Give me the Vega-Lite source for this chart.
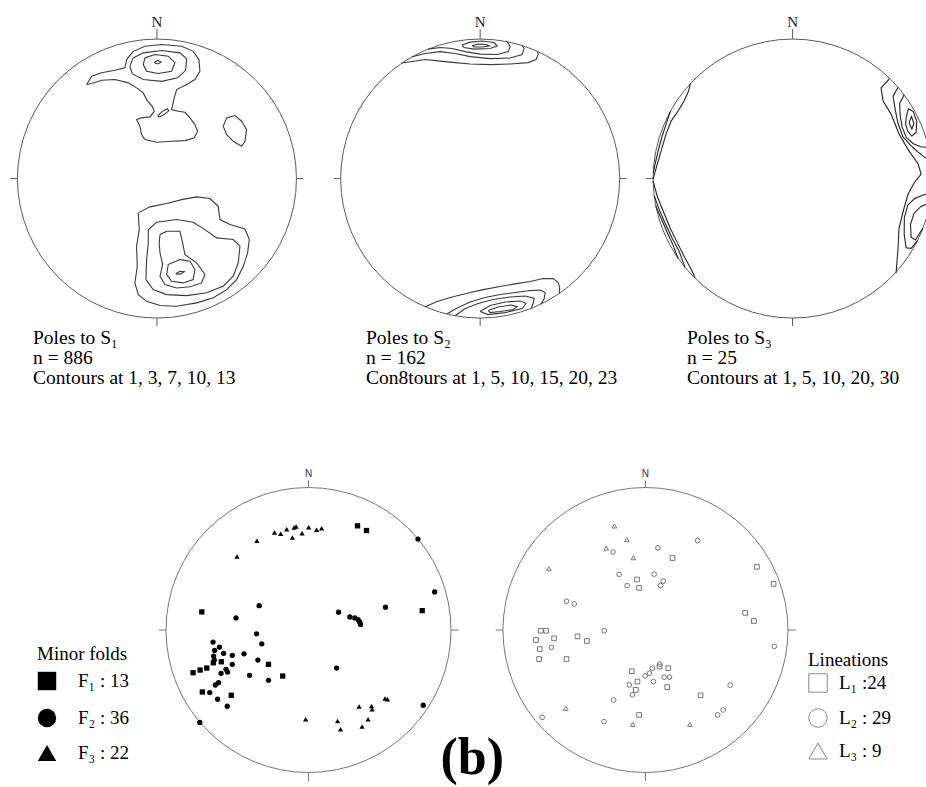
{
"$schema": "https://vega.github.io/schema/vega-lite/v6.json",
"padding": 0,
"background": "white",
"config": {"view": {"stroke": null}},
"datasets": {
"origin": [{"x": 0, "y": 0}],
"ticksTop": [{"x":0,"y":100,"x2":0,"y2":107.2},{"x":0,"y":-100,"x2":0,"y2":-105.7},{"x":-100,"y":0,"x2":-105,"y2":0},{"x":100,"y":0,"x2":105,"y2":0}],
"ticksBot": [{"x":0,"y":100,"x2":0,"y2":105},{"x":0,"y":-100,"x2":0,"y2":-106},{"x":-100,"y":0,"x2":-105,"y2":0},{"x":100,"y":0,"x2":105.5,"y2":0}],
"nTop": [{"x":0,"y":112,"t":"N"}],
"nBot": [{"x":0,"y":109.5,"t":"N"}],
"n1": [
{"c":"t1","x":-50.4,"y":67.4},{"c":"t1","x":-46.8,"y":73.3},{"c":"t1","x":-39.6,"y":75.8},{"c":"t1","x":-30.1,"y":77.6},{"c":"t1","x":-22.9,"y":79.4},{"c":"t1","x":-21.7,"y":85.3},{"c":"t1","x":-17.0,"y":91.2},{"c":"t1","x":-8.6,"y":94.8},{"c":"t1","x":3.4,"y":96.1},{"c":"t1","x":17.7,"y":94.8},{"c":"t1","x":26.0,"y":91.2},{"c":"t1","x":30.1,"y":85.3},{"c":"t1","x":30.8,"y":76.9},{"c":"t1","x":27.2,"y":71.0},{"c":"t1","x":21.3,"y":67.4},{"c":"t1","x":14.1,"y":63.8},{"c":"t1","x":12.4,"y":57.8},{"c":"t1","x":11.0,"y":51.8},{"c":"t1","x":10.5,"y":49.5},{"c":"t1","x":15.3,"y":48.2},{"c":"t1","x":20.1,"y":47.5},{"c":"t1","x":23.7,"y":43.5},{"c":"t1","x":27.2,"y":38.7},{"c":"t1","x":29.2,"y":33.9},{"c":"t1","x":26.7,"y":29.2},{"c":"t1","x":20.1,"y":27.2},{"c":"t1","x":10.5,"y":26.7},{"c":"t1","x":-0.2,"y":26.0},{"c":"t1","x":-8.6,"y":28.0},{"c":"t1","x":-11.0,"y":31.5},{"c":"t1","x":-12.2,"y":37.5},{"c":"t1","x":-14.6,"y":42.3},{"c":"t1","x":-11.0,"y":43.5},{"c":"t1","x":-5.0,"y":44.2},{"c":"t1","x":-1.9,"y":48.2},{"c":"t1","x":-3.4,"y":51.8},{"c":"t1","x":-7.4,"y":56.6},{"c":"t1","x":-9.8,"y":61.4},{"c":"t1","x":-14.6,"y":65.0},{"c":"t1","x":-20.6,"y":68.6},{"c":"t1","x":-30.1,"y":71.0},{"c":"t1","x":-39.6,"y":70.5},{"c":"t1","x":-46.8,"y":68.1},{"c":"t1","x":-50.4,"y":67.4},
{"c":"t2","x":-19.4,"y":80.5},{"c":"t2","x":-17.0,"y":86.5},{"c":"t2","x":-9.8,"y":90.1},{"c":"t2","x":3.4,"y":91.8},{"c":"t2","x":16.5,"y":90.1},{"c":"t2","x":21.3,"y":85.8},{"c":"t2","x":20.6,"y":77.6},{"c":"t2","x":14.8,"y":72.2},{"c":"t2","x":3.4,"y":69.7},{"c":"t2","x":-9.8,"y":71.0},{"c":"t2","x":-17.7,"y":75.0},{"c":"t2","x":-19.4,"y":80.5},
{"c":"t3","x":-8.6,"y":86.5},{"c":"t3","x":-1.4,"y":88.9},{"c":"t3","x":8.1,"y":87.7},{"c":"t3","x":12.9,"y":82.9},{"c":"t3","x":10.5,"y":76.9},{"c":"t3","x":0.9,"y":75.3},{"c":"t3","x":-7.4,"y":76.9},{"c":"t3","x":-9.8,"y":81.7},{"c":"t3","x":-8.6,"y":86.5},
{"c":"t4","x":-2,"y":83.2},{"c":"t4","x":0.6,"y":84.8},{"c":"t4","x":3,"y":83.6},{"c":"t4","x":0.6,"y":82.2},{"c":"t4","x":-2,"y":83.2},
{"c":"tn","x":0.5,"y":45},{"c":"tn","x":3.5,"y":48},{"c":"tn","x":7.5,"y":50},{"c":"tn","x":8.5,"y":48.5},{"c":"tn","x":4.5,"y":45.5},{"c":"tn","x":1.5,"y":44},{"c":"tn","x":0.5,"y":45},
{"c":"tr","x":50.0,"y":43.5},{"c":"tr","x":55.9,"y":45.2},{"c":"tr","x":60.7,"y":41.1},{"c":"tr","x":64.3,"y":35.1},{"c":"tr","x":63.1,"y":26.7},{"c":"tr","x":60.7,"y":23.2},{"c":"tr","x":54.7,"y":26.7},{"c":"tr","x":50.0,"y":31.5},{"c":"tr","x":47.5,"y":37.5},{"c":"tr","x":50.0,"y":43.5},
{"c":"b1","x":-13.4,"y":-24.6},{"c":"b1","x":-5.0,"y":-20.3},{"c":"b1","x":7.0,"y":-17.9},{"c":"b1","x":17.7,"y":-15.1},{"c":"b1","x":28.5,"y":-13.1},{"c":"b1","x":38.0,"y":-14.3},{"c":"b1","x":43.9,"y":-19.9},{"c":"b1","x":45.2,"y":-29.4},{"c":"b1","x":52.3,"y":-33.0},{"c":"b1","x":63.1,"y":-36.1},{"c":"b1","x":66.2,"y":-43.7},{"c":"b1","x":65.0,"y":-53.3},{"c":"b1","x":61.9,"y":-62.9},{"c":"b1","x":57.1,"y":-72.4},{"c":"b1","x":50.0,"y":-79.6},{"c":"b1","x":40.4,"y":-85.5},{"c":"b1","x":28.5,"y":-89.1},{"c":"b1","x":14.1,"y":-91.5},{"c":"b1","x":2.2,"y":-91.0},{"c":"b1","x":-7.4,"y":-88.0},{"c":"b1","x":-13.4,"y":-83.2},{"c":"b1","x":-15.8,"y":-74.8},{"c":"b1","x":-14.1,"y":-62.9},{"c":"b1","x":-14.6,"y":-48.5},{"c":"b1","x":-12.7,"y":-36.6},{"c":"b1","x":-13.4,"y":-24.6},
{"c":"b2","x":-6.2,"y":-36.6},{"c":"b2","x":-0.2,"y":-31.3},{"c":"b2","x":14.1,"y":-29.4},{"c":"b2","x":26.0,"y":-31.3},{"c":"b2","x":34.4,"y":-36.6},{"c":"b2","x":42.8,"y":-42.5},{"c":"b2","x":54.7,"y":-43.7},{"c":"b2","x":59.5,"y":-48.5},{"c":"b2","x":58.3,"y":-60.4},{"c":"b2","x":54.7,"y":-70.0},{"c":"b2","x":47.5,"y":-77.2},{"c":"b2","x":35.6,"y":-81.9},{"c":"b2","x":21.3,"y":-83.9},{"c":"b2","x":7.0,"y":-83.2},{"c":"b2","x":-2.7,"y":-79.6},{"c":"b2","x":-7.9,"y":-72.4},{"c":"b2","x":-7.4,"y":-58.1},{"c":"b2","x":-6.2,"y":-46.1},{"c":"b2","x":-6.2,"y":-36.6},
{"c":"b3","x":2.2,"y":-40.1},{"c":"b3","x":7.0,"y":-37.8},{"c":"b3","x":16.5,"y":-37.8},{"c":"b3","x":18.4,"y":-46.1},{"c":"b3","x":20.1,"y":-54.5},{"c":"b3","x":28.5,"y":-60.4},{"c":"b3","x":34.4,"y":-68.8},{"c":"b3","x":32.0,"y":-74.8},{"c":"b3","x":23.7,"y":-77.6},{"c":"b3","x":14.1,"y":-78.4},{"c":"b3","x":5.7,"y":-76.0},{"c":"b3","x":2.2,"y":-70.0},{"c":"b3","x":4.1,"y":-61.6},{"c":"b3","x":2.2,"y":-53.3},{"c":"b3","x":1.6,"y":-46.1},{"c":"b3","x":2.2,"y":-40.1},
{"c":"b4","x":8.1,"y":-61.6},{"c":"b4","x":16.5,"y":-58.1},{"c":"b4","x":23.7,"y":-59.3},{"c":"b4","x":27.2,"y":-65.2},{"c":"b4","x":26.0,"y":-72.4},{"c":"b4","x":18.9,"y":-74.8},{"c":"b4","x":10.5,"y":-73.6},{"c":"b4","x":7.0,"y":-68.8},{"c":"b4","x":8.1,"y":-61.6},
{"c":"b5","x":13.5,"y":-68.3},{"c":"b5","x":16.5,"y":-66.5},{"c":"b5","x":19.5,"y":-66.7},{"c":"b5","x":17,"y":-68.5},{"c":"b5","x":13.5,"y":-68.3}
],
"n2": [
{"c":"u1","x":-56.3,"y":82.8},{"c":"u1","x":-48.7,"y":83.9},{"c":"u1","x":-39.4,"y":85.3},{"c":"u1","x":-28.7,"y":84.2},{"c":"u1","x":-17.9,"y":83.1},{"c":"u1","x":-7.2,"y":82.1},{"c":"u1","x":7.2,"y":81.7},{"c":"u1","x":21.5,"y":82.1},{"c":"u1","x":34.4,"y":83.1},{"c":"u1","x":40.1,"y":85.3},{"c":"u1","x":41.6,"y":88.9},{"c":"u1","x":41.2,"y":91.0},
{"c":"u2","x":-48.7,"y":87.3},{"c":"u2","x":-39.4,"y":89.6},{"c":"u2","x":-28.7,"y":91.0},{"c":"u2","x":-17.9,"y":89.6},{"c":"u2","x":-7.2,"y":87.4},{"c":"u2","x":7.2,"y":86.0},{"c":"u2","x":21.5,"y":86.4},{"c":"u2","x":30.1,"y":88.9},{"c":"u2","x":31.5,"y":93.2},{"c":"u2","x":30.1,"y":95.3},
{"c":"u3","x":-37.3,"y":92.8},{"c":"u3","x":-28.7,"y":93.9},{"c":"u3","x":-20.1,"y":93.2},{"c":"u3","x":-10.8,"y":91.0},{"c":"u3","x":0,"y":89.2},{"c":"u3","x":12.2,"y":88.9},{"c":"u3","x":20.1,"y":91.0},{"c":"u3","x":21.5,"y":94.6},{"c":"u3","x":19.4,"y":98.1},
{"c":"u4","x":-12.9,"y":95.7},{"c":"u4","x":-7.2,"y":97.8},{"c":"u4","x":1.4,"y":98.6},{"c":"u4","x":10.0,"y":97.5},{"c":"u4","x":12.2,"y":95.0},{"c":"u4","x":7.2,"y":93.2},{"c":"u4","x":-4.3,"y":92.8},{"c":"u4","x":-11.5,"y":93.9},{"c":"u4","x":-12.9,"y":95.7},
{"c":"u5","x":-5.7,"y":95.3},{"c":"u5","x":-1.4,"y":96.4},{"c":"u5","x":4.3,"y":96.1},{"c":"u5","x":6.5,"y":95.0},{"c":"u5","x":1.4,"y":94.3},{"c":"u5","x":-4.3,"y":94.3},{"c":"u5","x":-5.7,"y":95.3},
{"c":"d1","x":-39.4,"y":-91.9},{"c":"d1","x":-30.8,"y":-88.2},{"c":"d1","x":-21.5,"y":-85.3},{"c":"d1","x":-9.3,"y":-82.2},{"c":"d1","x":2.2,"y":-79.6},{"c":"d1","x":14.3,"y":-77.4},{"c":"d1","x":25.1,"y":-75.5},{"c":"d1","x":35.8,"y":-73.8},{"c":"d1","x":45.2,"y":-71.7},{"c":"d1","x":52.3,"y":-71.7},{"c":"d1","x":55.9,"y":-74.5},{"c":"d1","x":57.0,"y":-78.1},{"c":"d1","x":56.8,"y":-82.3},
{"c":"d2","x":-23.9,"y":-97.1},{"c":"d2","x":-15.8,"y":-92.5},{"c":"d2","x":-7.2,"y":-88.5},{"c":"d2","x":3.6,"y":-85.3},{"c":"d2","x":14.3,"y":-83.1},{"c":"d2","x":25.1,"y":-81.7},{"c":"d2","x":35.8,"y":-80.3},{"c":"d2","x":43.0,"y":-79.9},{"c":"d2","x":46.6,"y":-81.7},{"c":"d2","x":45.9,"y":-86.0},{"c":"d2","x":43.7,"y":-90.0},
{"c":"d3","x":-17.9,"y":-98.3},{"c":"d3","x":-10.8,"y":-93.2},{"c":"d3","x":-1.4,"y":-89.6},{"c":"d3","x":9.3,"y":-86.7},{"c":"d3","x":21.5,"y":-84.9},{"c":"d3","x":32.3,"y":-84.2},{"c":"d3","x":38.7,"y":-85.7},{"c":"d3","x":38.0,"y":-89.6},{"c":"d3","x":36.6,"y":-93.0},
{"c":"d4","x":0,"y":-95.3},{"c":"d4","x":7.2,"y":-91.0},{"c":"d4","x":17.9,"y":-88.5},{"c":"d4","x":28.7,"y":-87.8},{"c":"d4","x":33.0,"y":-89.6},{"c":"d4","x":30.1,"y":-93.2},{"c":"d4","x":17.9,"y":-96.1},{"c":"d4","x":5.7,"y":-97.5},{"c":"d4","x":0,"y":-95.3},
{"c":"d5","x":5.7,"y":-94.6},{"c":"d5","x":12.9,"y":-92.1},{"c":"d5","x":22.2,"y":-90.7},{"c":"d5","x":26.5,"y":-91.8},{"c":"d5","x":23.7,"y":-93.9},{"c":"d5","x":14.3,"y":-95.3},{"c":"d5","x":7.2,"y":-96.1},{"c":"d5","x":5.7,"y":-94.6}
],
"n3": [
{"c":"U1","x":69.2,"y":71.3},{"c":"U1","x":63.4,"y":64.9},{"c":"U1","x":64.9,"y":55.6},{"c":"U1","x":70.6,"y":46.2},{"c":"U1","x":76.3,"y":31.9},{"c":"U1","x":83.5,"y":19.7},{"c":"U1","x":90.0,"y":10.4},{"c":"U1","x":92.1,"y":3.2},{"c":"U1","x":87.1,"y":-3.2},{"c":"U1","x":82.8,"y":-11.1},{"c":"U1","x":79.9,"y":-21.1},{"c":"U1","x":76.3,"y":-35.5},{"c":"U1","x":75.6,"y":-49.8},{"c":"U1","x":74.2,"y":-67.7},
{"c":"U2","x":75.6,"y":65.4},{"c":"U2","x":72.0,"y":59.1},{"c":"U2","x":73.5,"y":49.8},{"c":"U2","x":75.5,"y":40},{"c":"U2","x":79,"y":30},{"c":"U2","x":84.5,"y":24},{"c":"U2","x":90,"y":19},{"c":"U2","x":95,"y":15},{"c":"U2","x":99,"y":13.5},
{"c":"U3","x":80,"y":60},{"c":"U3","x":76.8,"y":54},{"c":"U3","x":77,"y":46},{"c":"U3","x":78.5,"y":37},{"c":"U3","x":81.5,"y":29.5},{"c":"U3","x":86.5,"y":25},{"c":"U3","x":92,"y":22.8},{"c":"U3","x":97.5,"y":22.2},
{"c":"U4","x":81.5,"y":44},{"c":"U4","x":83,"y":50},{"c":"U4","x":86.5,"y":48},{"c":"U4","x":89,"y":41},{"c":"U4","x":88.5,"y":33},{"c":"U4","x":85.5,"y":30.5},{"c":"U4","x":82.5,"y":34},{"c":"U4","x":81,"y":39},{"c":"U4","x":81.5,"y":44},
{"c":"U5","x":83.5,"y":40},{"c":"U5","x":85.2,"y":44.5},{"c":"U5","x":87,"y":39.5},{"c":"U5","x":85.5,"y":35.5},{"c":"U5","x":83.5,"y":40},
{"c":"L2","x":99.5,"y":-10},{"c":"L2","x":93,"y":-12},{"c":"L2","x":87.3,"y":-14.5},{"c":"L2","x":82.6,"y":-19},{"c":"L2","x":80.1,"y":-28},{"c":"L2","x":80,"y":-40},{"c":"L2","x":81.4,"y":-49.6},{"c":"L2","x":85,"y":-50},{"c":"L2","x":89.5,"y":-44.5},
{"c":"L3","x":98.5,"y":-17.4},{"c":"L3","x":92,"y":-20},{"c":"L3","x":87,"y":-25},{"c":"L3","x":84.5,"y":-33},{"c":"L3","x":85,"y":-42},{"c":"L3","x":88,"y":-44},{"c":"L3","x":91.5,"y":-38.5},{"c":"L3","x":93.5,"y":-35.5},
{"c":"A","x":-73.3,"y":68.0},{"c":"A","x":-74.5,"y":62.7},{"c":"A","x":-77.8,"y":55.6},{"c":"A","x":-82.1,"y":48.4},{"c":"A","x":-87.1,"y":41.2},{"c":"A","x":-90.7,"y":31.9},{"c":"A","x":-94.3,"y":19.7},{"c":"A","x":-97.8,"y":7.5},{"c":"A","x":-100,"y":-0.4},
{"c":"B","x":-87.5,"y":48.4},{"c":"B","x":-90,"y":41.2},{"c":"B","x":-93.5,"y":30.5},{"c":"B","x":-96.4,"y":19.7},{"c":"B","x":-98.6,"y":10.4},{"c":"B","x":-99.9,"y":3.9},
{"c":"C","x":-100,"y":-1.8},{"c":"C","x":-97.1,"y":-12.5},{"c":"C","x":-92.8,"y":-23.3},{"c":"C","x":-87.8,"y":-35.5},{"c":"C","x":-82.1,"y":-47.0},{"c":"C","x":-77.1,"y":-57.0},{"c":"C","x":-72.8,"y":-64.9},{"c":"C","x":-69.9,"y":-71.1},
{"c":"D","x":-99.2,"y":-12.5},{"c":"D","x":-95.7,"y":-21.9},{"c":"D","x":-91.4,"y":-31.9},{"c":"D","x":-86.4,"y":-42.6},{"c":"D","x":-81.4,"y":-52.0},{"c":"D","x":-77.1,"y":-63.7},
{"c":"E","x":-98.1,"y":-19.7},{"c":"E","x":-94.3,"y":-28.3},{"c":"E","x":-90.0,"y":-38.3},{"c":"E","x":-85.7,"y":-47.7},{"c":"E","x":-82.1,"y":-57.1}
],
"folds": [
{"s":"F₁ : 13","x":34.4,"y":73.1},{"s":"F₁ : 13","x":40.7,"y":69.8},{"s":"F₁ : 13","x":-74.9,"y":12.7},{"s":"F₁ : 13","x":79.8,"y":13.6},{"s":"F₁ : 13","x":-81.0,"y":-30.0},{"s":"F₁ : 13","x":-76.1,"y":-28.1},{"s":"F₁ : 13","x":-71.4,"y":-26.7},{"s":"F₁ : 13","x":-66.8,"y":-23.0},{"s":"F₁ : 13","x":-61.2,"y":-22.3},{"s":"F₁ : 13","x":-28.1,"y":-24.1},{"s":"F₁ : 13","x":-18.1,"y":-32.3},{"s":"F₁ : 13","x":-74.5,"y":-43.5},{"s":"F₁ : 13","x":-54.2,"y":-45.8},
{"s":"F₂ : 36","x":76.8,"y":63.8},{"s":"F₂ : 36","x":88.5,"y":26.7},{"s":"F₂ : 36","x":-34.6,"y":17.1},{"s":"F₂ : 36","x":-50.9,"y":8.5},{"s":"F₂ : 36","x":21.1,"y":12.5},{"s":"F₂ : 36","x":29.0,"y":9.2},{"s":"F₂ : 36","x":32.5,"y":8.5},{"s":"F₂ : 36","x":34.8,"y":7.3},{"s":"F₂ : 36","x":36.0,"y":5.5},{"s":"F₂ : 36","x":36.5,"y":3.8},{"s":"F₂ : 36","x":54.0,"y":16.0},{"s":"F₂ : 36","x":-36.5,"y":-2.7},{"s":"F₂ : 36","x":-32.8,"y":-9.7},{"s":"F₂ : 36","x":-67.0,"y":-8.5},{"s":"F₂ : 36","x":-65.9,"y":-14.3},{"s":"F₂ : 36","x":-59.6,"y":-16.4},{"s":"F₂ : 36","x":-53.5,"y":-17.8},{"s":"F₂ : 36","x":-45.3,"y":-16.7},{"s":"F₂ : 36","x":-35.5,"y":-21.1},{"s":"F₂ : 36","x":-66.6,"y":-18.3},{"s":"F₂ : 36","x":-66.1,"y":-21.1},{"s":"F₂ : 36","x":-53.5,"y":-24.1},{"s":"F₂ : 36","x":-57.9,"y":-27.6},{"s":"F₂ : 36","x":-56.8,"y":-29.5},{"s":"F₂ : 36","x":-61.4,"y":-30.4},{"s":"F₂ : 36","x":-41.4,"y":-31.8},{"s":"F₂ : 36","x":-28.1,"y":-35.3},{"s":"F₂ : 36","x":-63.1,"y":-36.9},{"s":"F₂ : 36","x":-65.4,"y":-38.6},{"s":"F₂ : 36","x":-69.3,"y":-43.9},{"s":"F₂ : 36","x":-63.8,"y":-48.6},{"s":"F₂ : 36","x":-57.0,"y":-53.5},{"s":"F₂ : 36","x":19.7,"y":-26.7},{"s":"F₂ : 36","x":80.5,"y":-52.8},{"s":"F₂ : 36","x":-76.3,"y":-64.9},{"s":"F₂ : 36","x":-62.5,"y":-12.0},
{"s":"F₃ : 22","x":-23.9,"y":68.4},{"s":"F₃ : 22","x":-19.5,"y":67.5},{"s":"F₃ : 22","x":-15.3,"y":70.7},{"s":"F₃ : 22","x":-10.1,"y":71.9},{"s":"F₃ : 22","x":-8.7,"y":72.6},{"s":"F₃ : 22","x":-11.3,"y":64.9},{"s":"F₃ : 22","x":-4.5,"y":67.9},{"s":"F₃ : 22","x":0.1,"y":72.1},{"s":"F₃ : 22","x":5.7,"y":70.3},{"s":"F₃ : 22","x":9.2,"y":71.4},{"s":"F₃ : 22","x":-36.2,"y":62.6},{"s":"F₃ : 22","x":-50.2,"y":51.6},{"s":"F₃ : 22","x":53.7,"y":-48.1},{"s":"F₃ : 22","x":55.4,"y":-48.6},{"s":"F₃ : 22","x":35.5,"y":-53.7},{"s":"F₃ : 22","x":44.2,"y":-53.3},{"s":"F₃ : 22","x":44.6,"y":-55.6},{"s":"F₃ : 22","x":41.8,"y":-62.6},{"s":"F₃ : 22","x":37.6,"y":-67.7},{"s":"F₃ : 22","x":20.4,"y":-63.8},{"s":"F₃ : 22","x":22.5,"y":-69.6},{"s":"F₃ : 22","x":-2.0,"y":-62.6}
],
"lins": [
{"s":"L₁ :24","x":19.0,"y":50.5},{"s":"L₁ :24","x":78.2,"y":44.4},{"s":"L₁ :24","x":89.9,"y":32.4},{"s":"L₁ :24","x":-5.9,"y":35.4},{"s":"L₁ :24","x":-4.5,"y":29.6},{"s":"L₁ :24","x":70.0,"y":12.0},{"s":"L₁ :24","x":76.1,"y":6.3},{"s":"L₁ :24","x":-73.5,"y":-0.5},{"s":"L₁ :24","x":-69.7,"y":-0.5},{"s":"L₁ :24","x":-76.8,"y":-7.0},{"s":"L₁ :24","x":-64.1,"y":-5.9},{"s":"L₁ :24","x":-47.7,"y":-4.5},{"s":"L₁ :24","x":-41.1,"y":-7.7},{"s":"L₁ :24","x":-74.2,"y":-13.4},{"s":"L₁ :24","x":-74.6,"y":-20.4},{"s":"L₁ :24","x":-55.4,"y":-20.4},{"s":"L₁ :24","x":-9.6,"y":-28.9},{"s":"L₁ :24","x":9.9,"y":-25.6},{"s":"L₁ :24","x":16.0,"y":-26.8},{"s":"L₁ :24","x":-5.6,"y":-36.2},{"s":"L₁ :24","x":15.3,"y":-40.1},{"s":"L₁ :24","x":-6.8,"y":-42.0},{"s":"L₁ :24","x":38.7,"y":-45.8},{"s":"L₁ :24","x":-4.5,"y":-59.6},
{"s":"L₂ : 29","x":36.6,"y":62.7},{"s":"L₂ : 29","x":8.7,"y":57.7},{"s":"L₂ : 29","x":-22.8,"y":54.7},{"s":"L₂ : 29","x":-18.5,"y":39.0},{"s":"L₂ : 29","x":6.1,"y":39.2},{"s":"L₂ : 29","x":12.4,"y":34.3},{"s":"L₂ : 29","x":10.6,"y":31.2},{"s":"L₂ : 29","x":-12.9,"y":31.2},{"s":"L₂ : 29","x":-55.4,"y":20.2},{"s":"L₂ : 29","x":-50.0,"y":18.3},{"s":"L₂ : 29","x":-28.9,"y":-0.5},{"s":"L₂ : 29","x":-66.0,"y":-12.2},{"s":"L₂ : 29","x":90.4,"y":-11.5},{"s":"L₂ : 29","x":10.1,"y":-23.9},{"s":"L₂ : 29","x":4.9,"y":-26.8},{"s":"L₂ : 29","x":2.8,"y":-30.3},{"s":"L₂ : 29","x":-0.2,"y":-32.2},{"s":"L₂ : 29","x":5.6,"y":-36.2},{"s":"L₂ : 29","x":13.1,"y":-33.1},{"s":"L₂ : 29","x":16.9,"y":-33.1},{"s":"L₂ : 29","x":-11.3,"y":-38.5},{"s":"L₂ : 29","x":-9.2,"y":-45.5},{"s":"L₂ : 29","x":-22.3,"y":-49.1},{"s":"L₂ : 29","x":59.4,"y":-38.7},{"s":"L₂ : 29","x":54.5,"y":-56.1},{"s":"L₂ : 29","x":50.7,"y":-59.6},{"s":"L₂ : 29","x":-72.5,"y":-61.3},{"s":"L₂ : 29","x":-29.1,"y":-64.3},
{"s":"L₃ : 9","x":-21.8,"y":73.0},{"s":"L₃ : 9","x":-13.1,"y":63.4},{"s":"L₃ : 9","x":-27.5,"y":57.5},{"s":"L₃ : 9","x":-8.5,"y":50.7},{"s":"L₃ : 9","x":-67.8,"y":43.0},{"s":"L₃ : 9","x":-55.9,"y":-54.9},{"s":"L₃ : 9","x":-8.9,"y":-66.2},{"s":"L₃ : 9","x":31.2,"y":-66.2}
]
},
"resolve": {"scale": {"x": "independent", "y": "independent", "shape": "independent"}, "legend": {"shape": "independent"}},
"spacing": 71,
"vconcat": [
{
"hconcat": [
{
"width": 304.81, "height": 329.22,
"title": {"text": ["Poles to S₁", "n = 886", "Contours at 1, 3, 7, 10, 13"], "orient": "bottom", "anchor": "start", "dx": 33, "offset": 0, "font": "Liberation Serif", "fontSize": 19.5, "fontWeight": "normal", "lineHeight": 20, "color": "black"},
"encoding": {
"x": {"field": "x", "type": "quantitative", "scale": {"domain": [-112.5, 106], "nice": false, "zero": false}, "axis": null},
"y": {"field": "y", "type": "quantitative", "scale": {"domain": [-108, 128], "nice": false, "zero": false}, "axis": null}
},
"layer": [
{"data": {"name": "origin"}, "mark": {"type": "point", "shape": "circle", "size": 77841, "filled": false, "color": "#5a5a5a", "strokeWidth": 1, "opacity": 1, "clip": true}},
{"data": {"name": "ticksTop"}, "mark": {"type": "rule", "color": "#5a5a5a", "strokeWidth": 1}, "encoding": {"x2": {"field": "x2"}, "y2": {"field": "y2"}}},
{"data": {"name": "nTop"}, "mark": {"type": "text", "font": "Liberation Serif", "fontSize": 15, "baseline": "middle", "align": "center", "color": "#222"}, "encoding": {"text": {"field": "t"}}},
{"data": {"name": "n1"}, "mark": {"type": "line", "color": "#3a3a3a", "strokeWidth": 1.1, "clip": true}, "encoding": {"detail": {"field": "c", "type": "nominal"}, "order": {"value": null}}}
]
},
{
"width": 313.04, "height": 329.22,
"title": {"text": ["Poles to S₂", "n = 162", "Con8tours at 1, 5, 10, 15, 20, 23"], "orient": "bottom", "anchor": "start", "dx": 51, "offset": 0, "font": "Liberation Serif", "fontSize": 19.5, "fontWeight": "normal", "lineHeight": 20, "color": "black"},
"encoding": {
"x": {"field": "x", "type": "quantitative", "scale": {"domain": [-118.4, 106], "nice": false, "zero": false}, "axis": null},
"y": {"field": "y", "type": "quantitative", "scale": {"domain": [-108, 128], "nice": false, "zero": false}, "axis": null}
},
"layer": [
{"data": {"name": "origin"}, "mark": {"type": "point", "shape": "circle", "size": 77841, "filled": false, "color": "#5a5a5a", "strokeWidth": 1, "opacity": 1, "clip": true}},
{"data": {"name": "ticksTop"}, "mark": {"type": "rule", "color": "#5a5a5a", "strokeWidth": 1}, "encoding": {"x2": {"field": "x2"}, "y2": {"field": "y2"}}},
{"data": {"name": "nTop"}, "mark": {"type": "text", "font": "Liberation Serif", "fontSize": 15, "baseline": "middle", "align": "center", "color": "#222"}, "encoding": {"text": {"field": "t"}}},
{"data": {"name": "n2"}, "mark": {"type": "line", "color": "#3a3a3a", "strokeWidth": 1.1, "clip": true}, "encoding": {"detail": {"field": "c", "type": "nominal"}, "order": {"value": null}}}
]
},
{
"width": 288.07, "height": 329.22,
"title": {"text": ["Poles to S₃", "n = 25", "Contours at 1, 5, 10, 20, 30"], "orient": "bottom", "anchor": "start", "dx": 48, "offset": 0, "font": "Liberation Serif", "fontSize": 19.5, "fontWeight": "normal", "lineHeight": 20, "color": "black"},
"encoding": {
"x": {"field": "x", "type": "quantitative", "scale": {"domain": [-110.1, 96.4], "nice": false, "zero": false}, "axis": null},
"y": {"field": "y", "type": "quantitative", "scale": {"domain": [-108, 128], "nice": false, "zero": false}, "axis": null}
},
"layer": [
{"data": {"name": "origin"}, "mark": {"type": "point", "shape": "circle", "size": 77841, "filled": false, "color": "#5a5a5a", "strokeWidth": 1, "opacity": 1, "clip": true}},
{"data": {"name": "ticksTop"}, "mark": {"type": "rule", "color": "#5a5a5a", "strokeWidth": 1, "clip": true}, "encoding": {"x2": {"field": "x2"}, "y2": {"field": "y2"}}},
{"data": {"name": "nTop"}, "mark": {"type": "text", "font": "Liberation Serif", "fontSize": 15, "baseline": "middle", "align": "center", "color": "#222"}, "encoding": {"text": {"field": "t"}}},
{"data": {"name": "n3"}, "mark": {"type": "line", "color": "#222", "strokeWidth": 1.1, "clip": true}, "encoding": {"detail": {"field": "c", "type": "nominal"}, "order": {"value": null}}}
]
}
],
"spacing": 10,
"resolve": {"scale": {"x": "independent", "y": "independent"}}
},
{
"hconcat": [
{
"width": 476.52, "height": 326.33,
"encoding": {
"x": {"field": "x", "type": "quantitative", "scale": {"domain": [-216.5, 117.9], "nice": false, "zero": false}, "axis": null},
"y": {"field": "y", "type": "quantitative", "scale": {"domain": [-109, 120], "nice": false, "zero": false}, "axis": null}
},
"layer": [
{"data": {"name": "origin"}, "mark": {"type": "point", "shape": "circle", "size": 81225, "filled": false, "color": "#777", "strokeWidth": 1, "opacity": 1}},
{"data": {"name": "ticksBot"}, "mark": {"type": "rule", "color": "#777", "strokeWidth": 1}, "encoding": {"x2": {"field": "x2"}, "y2": {"field": "y2"}}},
{"data": {"name": "nBot"}, "mark": {"type": "text", "font": "Liberation Sans", "fontSize": 10, "baseline": "middle", "align": "center", "color": "#333"}, "encoding": {"text": {"field": "t"}}},
{"data": {"name": "folds"}, "mark": {"type": "point", "filled": true, "size": 28, "opacity": 1, "color": "black"},
 "encoding": {"shape": {"field": "s", "type": "nominal", "scale": {"domain": ["F₁ : 13", "F₂ : 36", "F₃ : 22"], "range": ["square", "circle", "triangle-up"]},
  "legend": {"title": "Minor folds", "orient": "none", "legendX": 37, "legendY": 186, "padding": 0, "titleFont": "Liberation Serif", "titleFontSize": 19, "titleFontWeight": "normal", "titleColor": "black", "titlePadding": 7, "labelFont": "Liberation Serif", "labelFontSize": 19, "labelColor": "black", "labelOffset": 21, "symbolSize": 340, "symbolFillColor": "black", "symbolStrokeColor": "black", "rowPadding": 11}}}}
]
},
{
"width": 439.47, "height": 326.33,
"encoding": {
"x": {"field": "x", "type": "quantitative", "scale": {"domain": [-111.2, 197.2], "nice": false, "zero": false}, "axis": null},
"y": {"field": "y", "type": "quantitative", "scale": {"domain": [-109, 120], "nice": false, "zero": false}, "axis": null}
},
"layer": [
{"data": {"name": "origin"}, "mark": {"type": "point", "shape": "circle", "size": 81225, "filled": false, "color": "#777", "strokeWidth": 1, "opacity": 1}},
{"data": {"name": "ticksBot"}, "mark": {"type": "rule", "color": "#777", "strokeWidth": 1}, "encoding": {"x2": {"field": "x2"}, "y2": {"field": "y2"}}},
{"data": {"name": "nBot"}, "mark": {"type": "text", "font": "Liberation Sans", "fontSize": 10, "baseline": "middle", "align": "center", "color": "#333"}, "encoding": {"text": {"field": "t"}}},
{"data": {"name": "lins"}, "mark": {"type": "point", "filled": false, "size": 22, "opacity": 1, "color": "#666", "strokeWidth": 0.9},
 "encoding": {"shape": {"field": "s", "type": "nominal", "scale": {"domain": ["L₁ :24", "L₂ : 29", "L₃ : 9"], "range": ["square", "circle", "triangle-up"]},
  "legend": {"title": "Lineations", "orient": "none", "legendX": 321, "legendY": 192, "padding": 0, "titleFont": "Liberation Serif", "titleFontSize": 19, "titleFontWeight": "normal", "titleColor": "black", "titlePadding": 3, "labelFont": "Liberation Serif", "labelFontSize": 19, "labelColor": "black", "labelOffset": 11, "symbolSize": 340, "symbolFillColor": "transparent", "symbolStrokeColor": "#888", "symbolStrokeWidth": 1, "rowPadding": 11}}}}
]
}
],
"spacing": 10,
"resolve": {"scale": {"x": "independent", "y": "independent", "shape": "independent"}, "legend": {"shape": "independent"}},
"title": {"text": "(b)", "orient": "bottom", "anchor": "middle", "dx": 9, "offset": -52, "font": "Liberation Serif", "fontSize": 52, "fontWeight": "bold", "color": "black"}
}
]
}
